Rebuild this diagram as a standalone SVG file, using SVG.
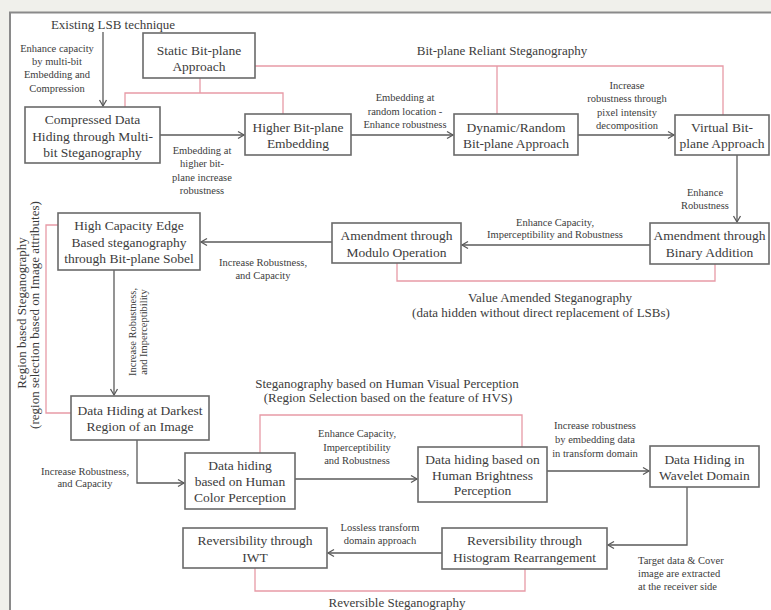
<svg xmlns="http://www.w3.org/2000/svg" width="771" height="610" viewBox="0 0 771 610">
<style>
text{font-family:"Liberation Serif","Times New Roman",serif;fill:#3c3c3c;dominant-baseline:central;text-anchor:middle}
.n{font-size:13.5px}
.t{font-size:13px}
.l{font-size:10.5px}
.box{fill:#fff;stroke:#6a6a6a;stroke-width:1.6}
.a{fill:none;stroke:#5a5a5a;stroke-width:1.3;marker-end:url(#ah)}
.r{fill:none;stroke:#e79aa6;stroke-width:1.3}
</style>
<defs>
<marker id="ah" markerWidth="10" markerHeight="10" refX="8" refY="5" orient="auto" markerUnits="userSpaceOnUse">
<path d="M2,1.5 L8,5 L2,8.5" fill="none" stroke="#5a5a5a" stroke-width="1.3"/>
</marker>
</defs>
<rect x="0" y="0" width="771" height="610" fill="#f0f0eb"/>
<rect x="10" y="12.5" width="800" height="700" fill="#fff" stroke="#8a8a8a" stroke-width="2"/>

<g id="groups">
<path class="r" d="M255,66 H723 V115"/>
<path class="r" d="M497,66 V114"/>
<path class="r" d="M200,78 V93"/>
<path class="r" d="M125,107 V93 H283 V114"/>
<path class="r" d="M397,263 V281 H715 V264"/>
<path class="r" d="M58,225 H46 V413 H71"/>
<path class="r" d="M260,453 V415 H522 V447"/>
<path class="r" d="M255,568 V591 H525 V569"/>
</g>

<g id="connectors">
<path class="a" d="M103,32 V106"/>
<path class="a" d="M160,135 H244"/>
<path class="a" d="M351,135 H453"/>
<path class="a" d="M578,135 H674"/>
<path class="a" d="M737,155 V222"/>
<path class="a" d="M650,245 H462"/>
<path class="a" d="M332,242 H201"/>
<path class="a" d="M114,270 V395"/>
<path class="a" d="M137,440 V483 H184"/>
<path class="a" d="M295,479 H417"/>
<path class="a" d="M547,471 H649"/>
<path class="a" d="M687,487 V545 H608"/>
<path class="a" d="M442,553 H328"/>
</g>

<g id="static"><rect class="box" x="143" y="33" width="112" height="45"/>
<text class="n" x="199" y="50">Static Bit-plane</text><text class="n" x="199" y="66">Approach</text></g>
<g id="compressed"><rect class="box" x="25" y="107" width="135" height="56"/>
<text class="n" x="92.5" y="119">Compressed Data</text><text class="n" x="92.5" y="136">Hiding through Multi-</text><text class="n" x="92.5" y="152">bit Steganography</text></g>
<g id="higher"><rect class="box" x="245" y="114" width="106" height="41"/>
<text class="n" x="298" y="127">Higher Bit-plane</text><text class="n" x="298" y="143">Embedding</text></g>
<g id="dynamic"><rect class="box" x="454" y="114" width="124" height="41"/>
<text class="n" x="516" y="127">Dynamic/Random</text><text class="n" x="516" y="143">Bit-plane Approach</text></g>
<g id="virtual"><rect class="box" x="675" y="115" width="94" height="40"/>
<text class="n" x="722" y="127">Virtual Bit-</text><text class="n" x="722" y="143">plane Approach</text></g>
<g id="binary"><rect class="box" x="650" y="223" width="119" height="41"/>
<text class="n" x="709.5" y="235">Amendment through</text><text class="n" x="709.5" y="252">Binary Addition</text></g>
<g id="modulo"><rect class="box" x="332" y="223" width="129" height="40"/>
<text class="n" x="396.5" y="235">Amendment through</text><text class="n" x="396.5" y="252">Modulo Operation</text></g>
<g id="highcap"><rect class="box" x="58" y="213" width="142" height="57"/>
<text class="n" x="129" y="225">High Capacity Edge</text><text class="n" x="129" y="242">Based steganography</text><text class="n" x="129" y="258">through Bit-plane Sobel</text></g>
<g id="darkest"><rect class="box" x="71" y="396" width="138" height="44"/>
<text class="n" x="140" y="410">Data Hiding at Darkest</text><text class="n" x="140" y="426">Region of an Image</text></g>
<g id="color"><rect class="box" x="185" y="453" width="110" height="56"/>
<text class="n" x="240" y="465">Data hiding</text><text class="n" x="240" y="481">based on Human</text><text class="n" x="240" y="497">Color Perception</text></g>
<g id="brightness"><rect class="box" x="418" y="447" width="129" height="55"/>
<text class="n" x="482.5" y="459">Data hiding based on</text><text class="n" x="482.5" y="475">Human Brightness</text><text class="n" x="482.5" y="490">Perception</text></g>
<g id="wavelet"><rect class="box" x="650" y="446" width="109" height="41"/>
<text class="n" x="704.5" y="459">Data Hiding in</text><text class="n" x="704.5" y="475">Wavelet Domain</text></g>
<g id="histogram"><rect class="box" x="442" y="528" width="165" height="41"/>
<text class="n" x="524.5" y="540">Reversibility through</text><text class="n" x="524.5" y="557">Histogram Rearrangement</text></g>
<g id="iwt"><rect class="box" x="183" y="528" width="144" height="40"/>
<text class="n" x="255" y="540">Reversibility through</text><text class="n" x="255" y="557">IWT</text></g>

<g id="labels">
<text class="t" x="113" y="24">Existing LSB technique</text>
<text class="l" x="57" y="48">Enhance capacity</text><text class="l" x="57" y="61">by multi-bit</text><text class="l" x="57" y="74">Embedding and</text><text class="l" x="57" y="88">Compression</text>
<text class="l" x="202" y="150">Embedding at</text><text class="l" x="202" y="163">higher bit-</text><text class="l" x="202" y="177">plane increase</text><text class="l" x="202" y="190">robustness</text>
<text class="t" x="502" y="50">Bit-plane Reliant Steganography</text>
<text class="l" x="405" y="97">Embedding at</text><text class="l" x="405" y="111">random location -</text><text class="l" x="405" y="124">Enhance robustness</text>
<text class="l" x="627" y="85">Increase</text><text class="l" x="627" y="98">robustness through</text><text class="l" x="627" y="112">pixel intensity</text><text class="l" x="627" y="125">decomposition</text>
<text class="l" x="705" y="192">Enhance</text><text class="l" x="705" y="205">Robustness</text>
<text class="l" x="555" y="222">Enhance Capacity,</text><text class="l" x="555" y="234">Imperceptibility and Robustness</text>
<text class="l" x="263" y="262">Increase Robustness,</text><text class="l" x="263" y="275">and Capacity</text>
<text class="t" x="550" y="297">Value Amended Steganography</text>
<text class="t" x="541" y="312">(data hidden without direct replacement of LSBs)</text>
<text class="t" transform="translate(21,313) rotate(-90)">Region based Steganography</text>
<text class="t" transform="translate(34,315) rotate(-90)">(region selection based on Image attributes)</text>
<text class="l" transform="translate(132,332) rotate(-90)">Increase Robustness,</text>
<text class="l" transform="translate(143,332) rotate(-90)">and Imperceptibility</text>
<text class="l" x="85" y="471">Increase Robustness,</text><text class="l" x="85" y="483">and Capacity</text>
<text class="t" x="387" y="383">Steganography based on Human Visual Perception</text>
<text class="t" x="388" y="397">(Region Selection based on the feature of HVS)</text>
<text class="l" x="357" y="433">Enhance Capacity,</text><text class="l" x="357" y="447">Imperceptibility</text><text class="l" x="357" y="460">and Robustness</text>
<text class="l" x="595" y="425">Increase robustness</text><text class="l" x="595" y="439">by embedding data</text><text class="l" x="595" y="453">in transform domain</text>
<text class="l" x="380" y="527">Lossless transform</text><text class="l" x="380" y="540">domain approach</text>
<text class="l" x="638" y="560" style="text-anchor:start">Target data &amp; Cover</text><text class="l" x="638" y="573" style="text-anchor:start">image are extracted</text><text class="l" x="638" y="586" style="text-anchor:start">at the receiver side</text>
<text class="t" x="397" y="602">Reversible Steganography</text>
</g>
</svg>
